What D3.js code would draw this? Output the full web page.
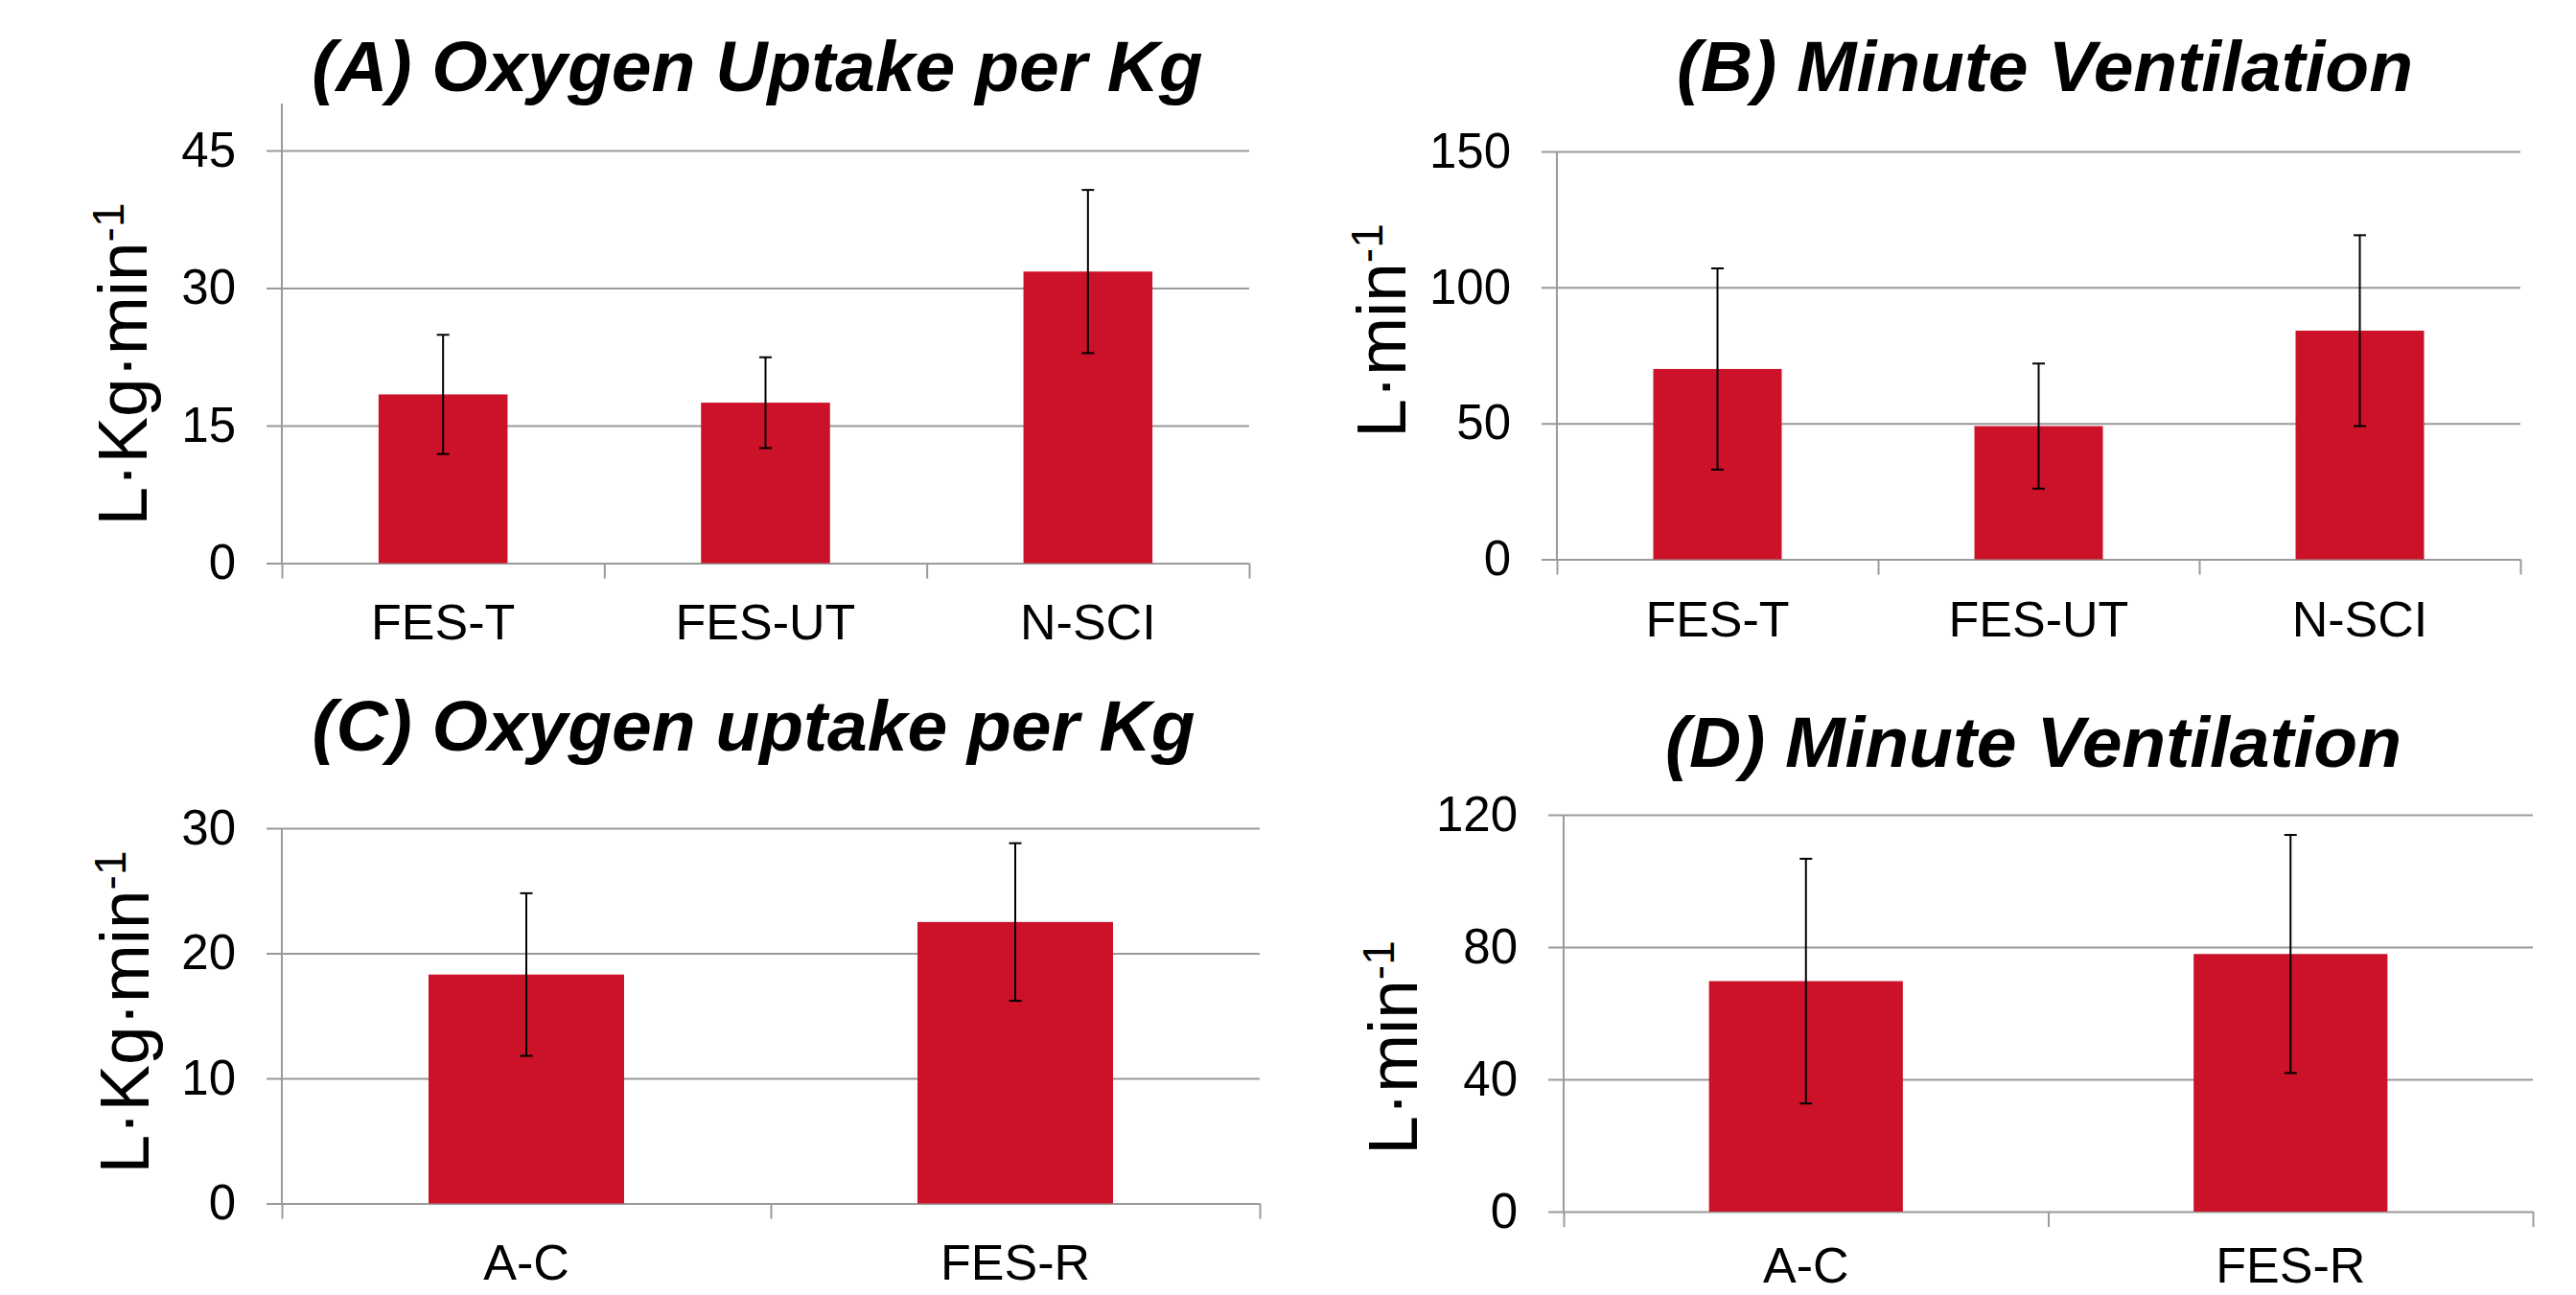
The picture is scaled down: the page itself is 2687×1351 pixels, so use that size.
<!DOCTYPE html>
<html>
<head>
<meta charset="utf-8">
<script src="https://cdn.jsdelivr.net/npm/d3@7"></script>
<style>
  body { margin: 0; background: #fff; }
  svg text { font-family: "Liberation Sans", Arial, sans-serif; fill: #000; }
</style>
</head>
<body>
<div id="chart"></div>
<script>
'use strict';

// data (means and SD)
var groupsT = ["FES-T", "FES-UT", "N-SCI"];
var groupsR = ["A-C", "FES-R"];

var vo2Mean = [18.4, 17.5, 31.8];
var vo2Sd = [6.5, 4.95, 8.9];
var veMean = [70.0, 49.0, 84.1];
var veSd = [37.0, 23.0, 35.1];
var vo2RMean = [18.3, 22.5];
var vo2RSd = [6.5, 6.3];
var veRMean = [69.7, 77.9];
var veRSd = [37.0, 36.0];

var ticksA = [0, 15, 30, 45];
var ticksB = [0, 50, 100, 150];
var ticksC = [0, 10, 20, 30];
var ticksD = [0, 40, 80, 120];

var titles = ["(A) Oxygen Uptake per Kg", "(B) Minute Ventilation",
              "(C) Oxygen uptake per Kg", "(D) Minute Ventilation"];
var unitKg = "L·Kg·min", unitMin = "L·min";

// constants
var width = 2687,
    height = 1351,
    barColor = "#cc1229",
    gridColor = "#9a9a9a";

// panel layout
var panels = [
  { groups: groupsT, mean: vo2Mean, sd: vo2Sd, ticks: ticksA, title: titles[0], unit: unitKg,
    x0: 294, x1: 1303, yTop: 157, yBase: 587.5, axisTop: 108,
    titleX: 790, titleY: 95, labX: 153, labY: 380, catY: 667 },
  { groups: groupsT, mean: veMean, sd: veSd, ticks: ticksB, title: titles[1], unit: unitMin,
    x0: 1624, x1: 2629, yTop: 158, yBase: 583.5, axisTop: 158,
    titleX: 2133, titleY: 95, labX: 1466, labY: 345, catY: 664 },
  { groups: groupsR, mean: vo2RMean, sd: vo2RSd, ticks: ticksC, title: titles[2], unit: unitKg,
    x0: 294, x1: 1314, yTop: 864, yBase: 1255.5, axisTop: 864,
    titleX: 786, titleY: 783, labX: 155, labY: 1056, catY: 1335 },
  { groups: groupsR, mean: veRMean, sd: veRSd, ticks: ticksD, title: titles[3], unit: unitMin,
    x0: 1631, x1: 2642, yTop: 850, yBase: 1264, axisTop: 850,
    titleX: 2121, titleY: 800, labX: 1478, labY: 1093, catY: 1338 }
];

var svg = d3.select("#chart")
  .append("svg")
  .attr("width", width)
  .attr("height", height);

svg.append("rect").attr("width", width).attr("height", height).attr("fill", "#fff");

panels.forEach(function (p) {
  var g = svg.append("g");

  var y = d3.scaleLinear().domain([0, d3.max(p.ticks)]).range([p.yBase, p.yTop]);
  var x = d3.scaleBand().domain(p.groups).range([p.x0, p.x1])
    .paddingInner(0.6).paddingOuter(0.3);
  var xi = d3.scaleLinear().domain([0, p.groups.length]).range([p.x0, p.x1]);

  // gridlines and tick labels
  var ya = g.append("g")
    .attr("transform", "translate(" + (p.x0 - 16) + ",0)")
    .call(d3.axisLeft(y).tickValues(p.ticks).tickSize(-(p.x1 - p.x0 + 16)).tickPadding(32));
  ya.select(".domain").remove();
  ya.selectAll(".tick line").attr("stroke", gridColor).attr("stroke-width", 2);
  ya.selectAll(".tick text").attr("font-size", 51);

  // category ticks under the baseline
  var xa = g.append("g")
    .attr("transform", "translate(0," + p.yBase + ")")
    .call(d3.axisBottom(xi).tickValues(d3.range(p.groups.length + 1)).tickSize(16).tickFormat(""));
  xa.select(".domain").remove();
  xa.selectAll(".tick line").attr("stroke", gridColor).attr("stroke-width", 2);

  // vertical axis line
  g.append("line")
    .attr("x1", p.x0).attr("x2", p.x0)
    .attr("y1", p.axisTop).attr("y2", p.yBase)
    .attr("stroke", gridColor).attr("stroke-width", 2);

  var rows = p.groups.map(function (d, i) {
    return { name: d, mean: p.mean[i], sd: p.sd[i] };
  });

  // Bars
  g.selectAll("rect.bar")
    .data(rows)
    .enter().append("rect")
    .attr("class", "bar")
    .attr("x", function (d) { return x(d.name); })
    .attr("y", function (d) { return y(d.mean); })
    .attr("width", x.bandwidth())
    .attr("height", function (d) { return y(0) - y(d.mean); })
    .attr("fill", barColor);

  // error bars
  var eb = g.selectAll("g.err")
    .data(rows)
    .enter().append("g")
    .attr("class", "err")
    .attr("transform", function (d) {
      return "translate(" + (x(d.name) + x.bandwidth() / 2) + ",0)";
    })
    .attr("stroke", "#000")
    .attr("stroke-width", 2);

  eb.append("line")
    .attr("y1", function (d) { return y(d.mean + d.sd); })
    .attr("y2", function (d) { return y(d.mean - d.sd); });
  eb.append("line")
    .attr("x1", -6.5).attr("x2", 6.5)
    .attr("y1", function (d) { return y(d.mean + d.sd); })
    .attr("y2", function (d) { return y(d.mean + d.sd); });
  eb.append("line")
    .attr("x1", -6.5).attr("x2", 6.5)
    .attr("y1", function (d) { return y(d.mean - d.sd); })
    .attr("y2", function (d) { return y(d.mean - d.sd); });

  // category labels
  g.selectAll("text.cat")
    .data(p.groups)
    .enter().append("text")
    .attr("class", "cat")
    .attr("x", function (d) { return x(d) + x.bandwidth() / 2; })
    .attr("y", p.catY)
    .attr("text-anchor", "middle")
    .attr("font-size", 52)
    .text(function (d) { return d; });

  // title
  g.append("text")
    .attr("x", p.titleX)
    .attr("y", p.titleY)
    .attr("text-anchor", "middle")
    .attr("font-size", 75)
    .attr("font-weight", "bold")
    .attr("font-style", "italic")
    .text(p.title);

  // y label
  var lab = g.append("text")
    .attr("transform", "translate(" + p.labX + "," + p.labY + ") rotate(-90)")
    .attr("text-anchor", "middle")
    .attr("font-size", 73);
  lab.append("tspan").text(p.unit);
  lab.append("tspan").attr("font-size", 46).attr("dy", -24).text("-1");
});
</script>
</body>
</html>
